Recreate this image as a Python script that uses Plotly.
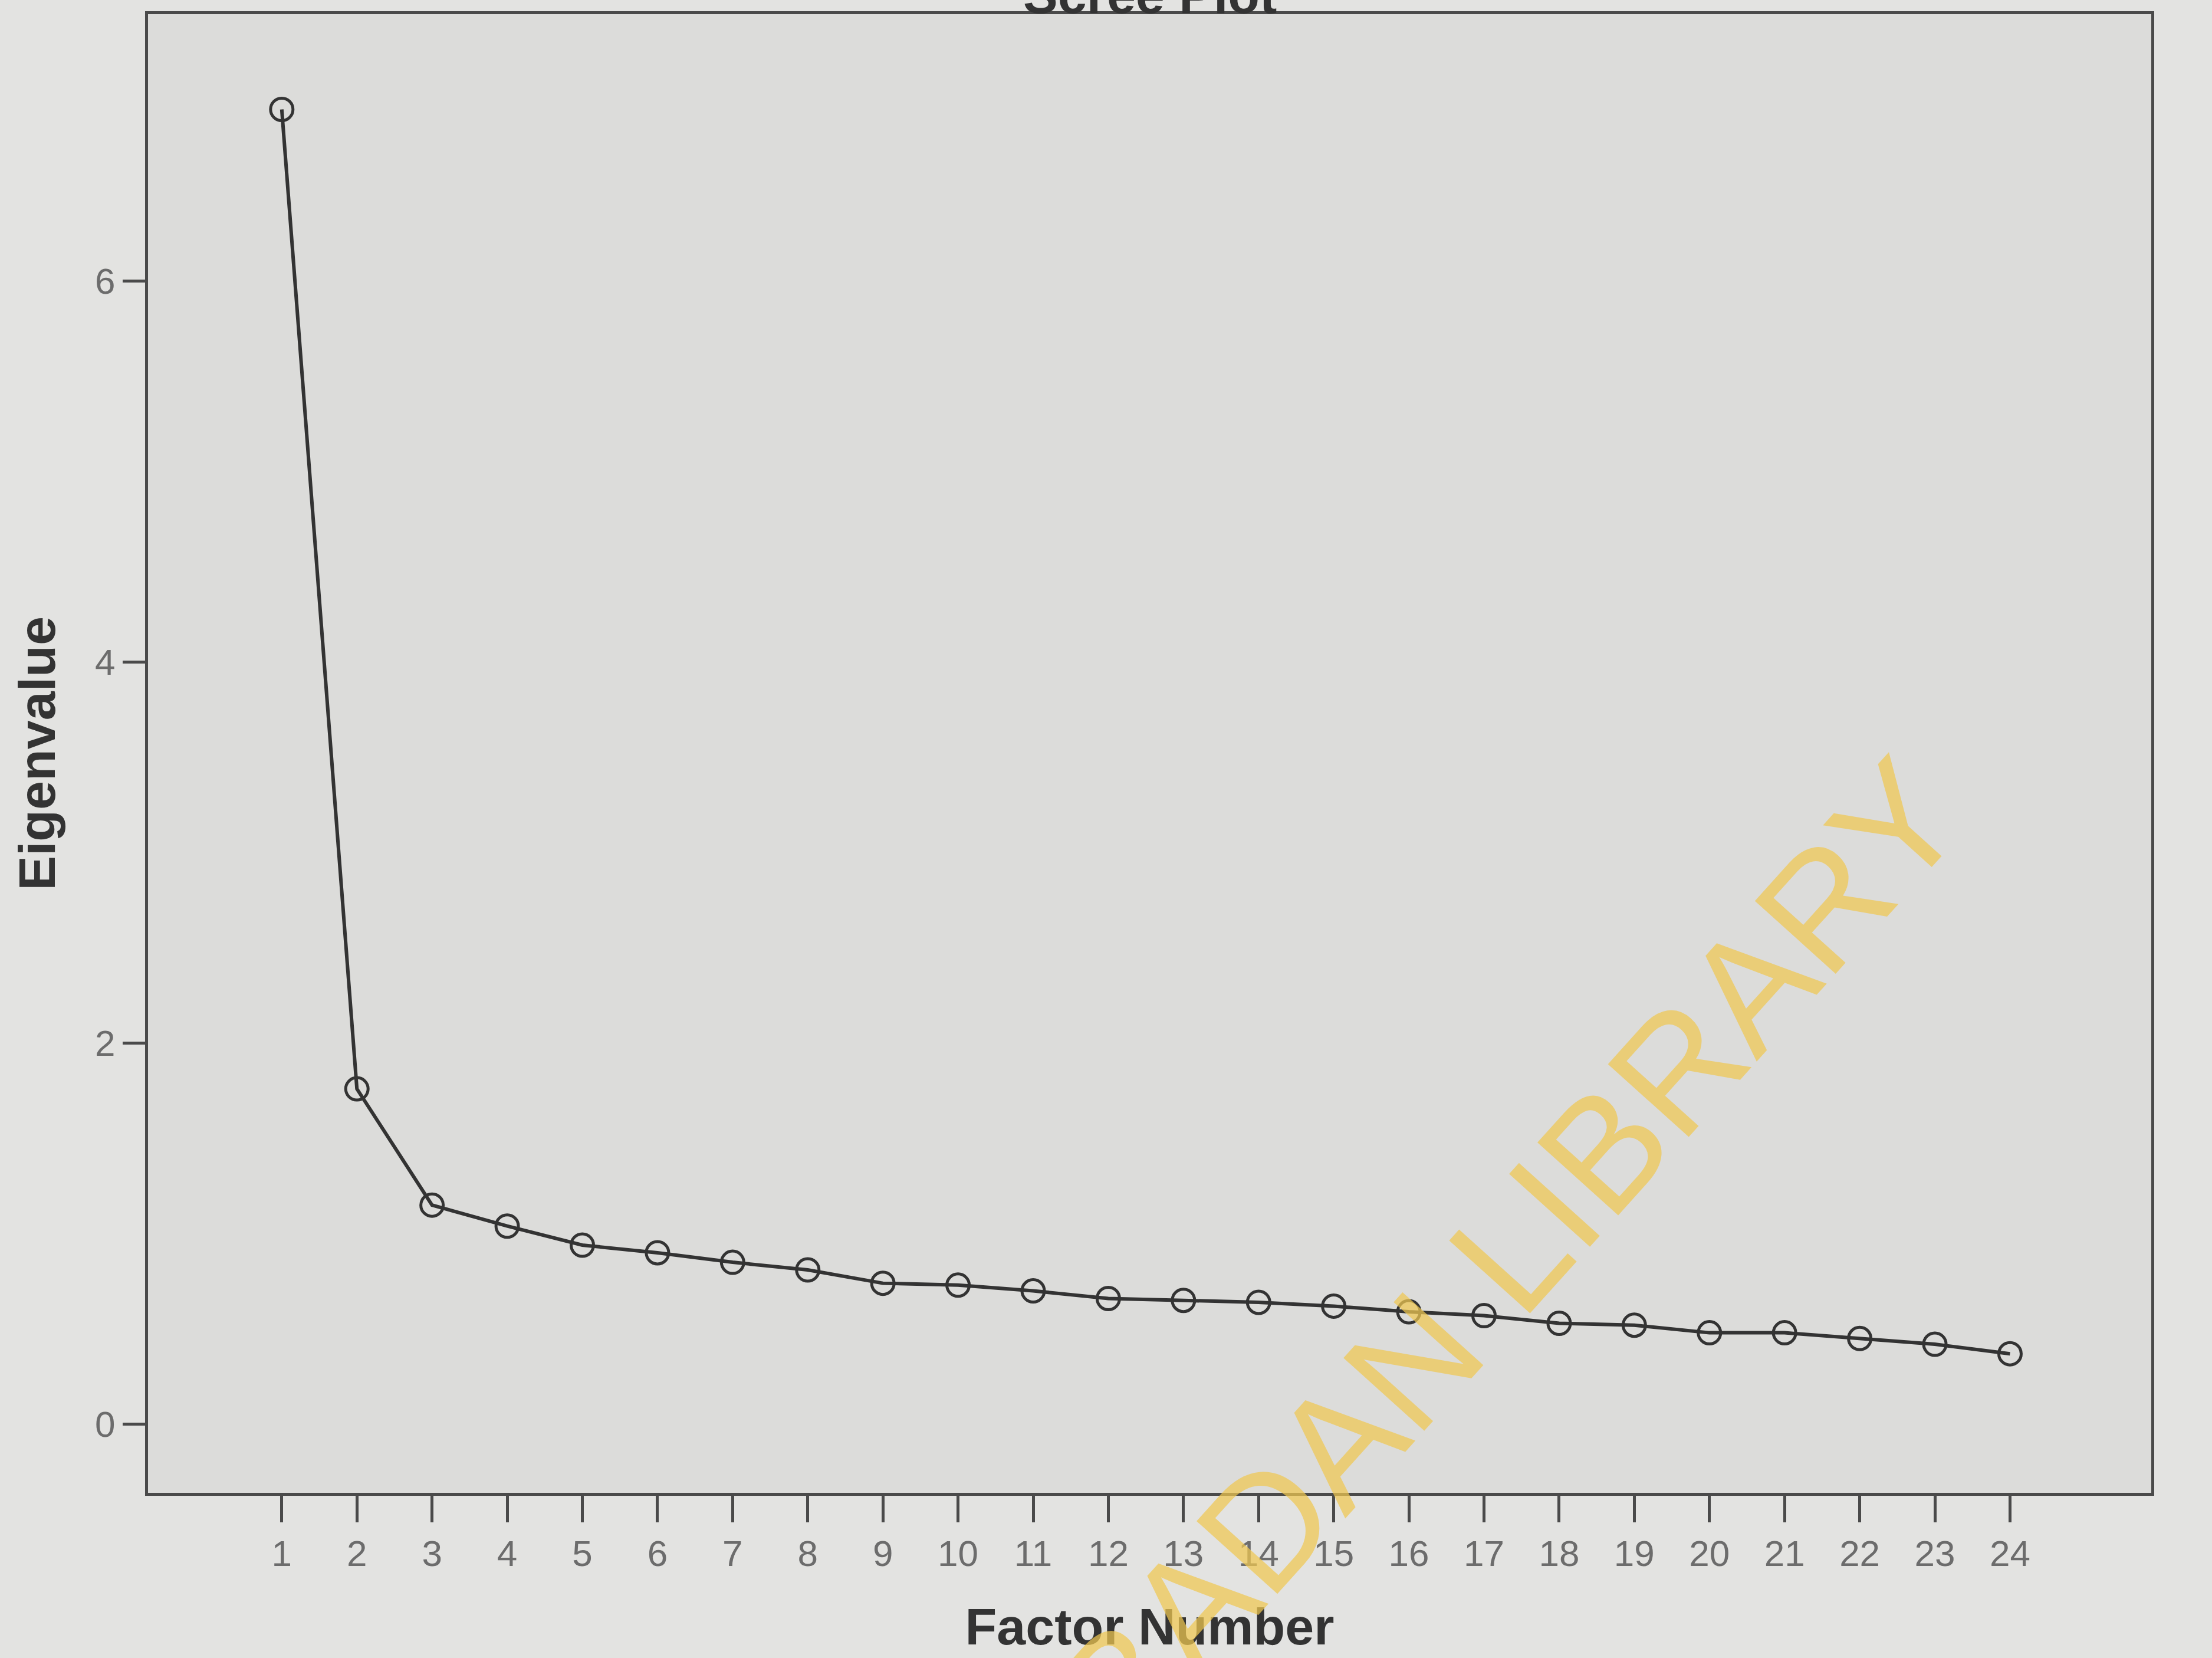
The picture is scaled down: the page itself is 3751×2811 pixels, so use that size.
import plotly.graph_objects as go

factors = list(range(1, 25))
eigenvalues = [6.90, 1.76, 1.15, 1.04, 0.94, 0.90, 0.85, 0.81, 0.74, 0.73, 0.70, 0.66,
               0.65, 0.64, 0.62, 0.59, 0.57, 0.53, 0.52, 0.48, 0.48, 0.45, 0.42, 0.37]
y_ticks = [0, 2, 4, 6]
title_text = "Scree Plot"
x_title = "Factor Number"
y_title = "Eigenvalue"
watermark = "IBADAN LIBRARY"

fig = go.Figure()
fig.add_trace(go.Scatter(
    x=factors, y=eigenvalues, mode="lines+markers",
    line=dict(color="#333333", width=6),
    marker=dict(symbol="circle-open", size=38, color="#333333", line=dict(width=5)),
    showlegend=False,
))

axis_common = dict(
    showline=True, linecolor="#4a4a4a", linewidth=5, mirror=True,
    showgrid=False, zeroline=False, ticks="outside", tickcolor="#4a4a4a",
    tickwidth=5,
)

fig.update_xaxes(
    **axis_common, range=[-0.78, 25.88], tickmode="array", tickvals=factors,
    ticktext=[str(v) for v in factors], ticklen=45,
    tickfont=dict(family="Liberation Sans", size=62, color="#6c6c6c"),
    title=dict(text=x_title, standoff=60,
               font=dict(family="Liberation Sans", size=88, color="#333333", weight="bold")),
)
fig.update_yaxes(
    **axis_common, range=[-0.36, 7.4], tickmode="array", tickvals=y_ticks,
    ticktext=[str(v) for v in y_ticks], ticklen=38,
    tickfont=dict(family="Liberation Sans", size=62, color="#6c6c6c"),
    title=dict(text=y_title, standoff=40,
               font=dict(family="Liberation Sans", size=88, color="#333333", weight="bold")),
)

fig.add_annotation(
    text="<b>" + title_text + "</b>", xref="paper", yref="paper", x=0.5, y=1.013,
    xanchor="center", yanchor="middle", showarrow=False,
    font=dict(family="Liberation Sans", size=88, color="#333333"),
)
fig.add_annotation(
    text=watermark, xref="paper", yref="paper", x=0.672, y=0.15,
    xanchor="center", yanchor="middle",
    textangle=-48, showarrow=False,
    font=dict(family="Liberation Sans", size=268, color="rgba(240,200,80,0.72)"),
)

fig.update_layout(
    width=3751, height=2811,
    margin=dict(l=251, r=103, t=24, b=280),
    paper_bgcolor="#e3e3e1", plot_bgcolor="#dcdcda",
)

fig.write_html("out.html")
